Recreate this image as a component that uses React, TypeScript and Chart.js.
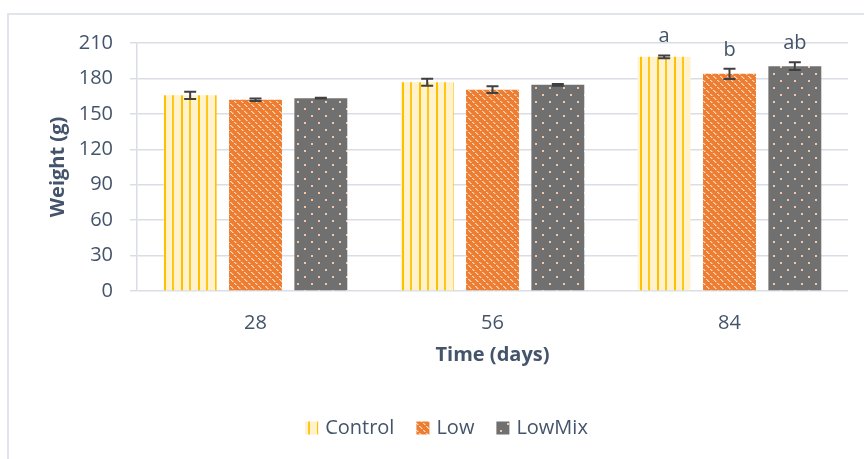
import React, { useEffect, useRef } from 'react';
import { Chart, registerables } from 'chart.js';

Chart.register(...registerables);

// ---- data ----
const categories = ['28', '56', '84'];
const seriesNames = ['Control', 'Low', 'LowMix'];
const controlValues = [165.7, 176.8, 198.3];
const lowValues = [162.0, 170.5, 183.9];
const lowMixValues = [163.3, 174.6, 190.4];
const controlErrors = [3.1, 3.0, 1.2];
const lowErrors = [1.1, 2.8, 4.4];
const lowMixErrors = [0.3, 0.7, 3.2];
const controlLetters = ['', '', 'a'];
const lowLetters = ['', '', 'b'];
const lowMixLetters = ['', '', 'ab'];
const yMin = 0;
const yMax = 210;
const yStep = 30;
const xTitle = 'Time (days)';
const yTitle = 'Weight (g)';

const TEXT = '#44546A';
const GRID = '#DADEE4';
const FONT = '"Open Sans", "DejaVu Sans", sans-serif';

function tile(w: number, h: number, draw: (g: CanvasRenderingContext2D) => void) {
  const c = document.createElement('canvas');
  c.width = w;
  c.height = h;
  const g = c.getContext('2d') as CanvasRenderingContext2D;
  draw(g);
  return c;
}

function makePatterns(ctx: CanvasRenderingContext2D) {
  const control = tile(17, 4, (g) => {
    g.fillStyle = '#FFF2CC';
    g.fillRect(0, 0, 17, 4);
    g.fillStyle = '#FFC000';
    g.fillRect(11, 0, 2, 4);
    g.fillStyle = '#FFC61A';
    g.fillRect(2, 0, 2, 4);
  });
  const low = tile(7, 7, (g) => {
    g.fillStyle = '#ED7D31';
    g.fillRect(0, 0, 7, 7);
    for (let i = 0; i < 7; i++) {
      if (i === 2 || i === 5) continue;
      g.fillStyle = 'rgba(252,222,200,0.95)';
      g.fillRect(i, i, 1, 1);
      g.fillStyle = 'rgba(250,205,175,0.55)';
      g.fillRect((i + 1) % 7, i, 1, 1);
    }
  });
  const mix = tile(14, 14, (g) => {
    g.fillStyle = '#707070';
    g.fillRect(0, 0, 14, 14);
    g.fillStyle = '#F6C7A6';
    g.fillRect(3, 3, 2, 2);
    g.fillRect(10, 10, 2, 2);
  });
  return [
    ctx.createPattern(control, 'repeat'),
    ctx.createPattern(low, 'repeat'),
    ctx.createPattern(mix, 'repeat'),
  ];
}

const errorSets = [controlErrors, lowErrors, lowMixErrors];
const letterSets = [controlLetters, lowLetters, lowMixLetters];

const framePlugin = {
  id: 'frame',
  beforeDraw(chart: any) {
    const ctx = chart.ctx;
    ctx.save();
    ctx.strokeStyle = '#E1E4E9';
    ctx.lineWidth = 2;
    ctx.beginPath();
    ctx.moveTo(8, chart.height);
    ctx.lineTo(8, 14);
    ctx.lineTo(chart.width, 14);
    ctx.stroke();
    ctx.restore();
  },
};

const overlayPlugin = {
  id: 'overlay',
  afterDatasetsDraw(chart: any) {
    const ctx = chart.ctx;
    const ys = chart.scales.y;
    chart.data.datasets.forEach((ds: any, di: number) => {
      const meta = chart.getDatasetMeta(di);
      meta.data.forEach((bar: any, i: number) => {
        const v = ds.data[i];
        const e = errorSets[di][i];
        const x = bar.x;
        const yHi = ys.getPixelForValue(v + e);
        const yLo = ys.getPixelForValue(v - e);
        ctx.save();
        ctx.strokeStyle = '#404040';
        ctx.lineWidth = 2;
        ctx.beginPath();
        ctx.moveTo(x, yHi);
        ctx.lineTo(x, yLo);
        ctx.moveTo(x - 6, yHi);
        ctx.lineTo(x + 6, yHi);
        ctx.moveTo(x - 6, yLo);
        ctx.lineTo(x + 6, yLo);
        ctx.stroke();
        const letter = letterSets[di][i];
        if (letter) {
          ctx.fillStyle = TEXT;
          ctx.font = `20px ${FONT}`;
          ctx.textAlign = 'center';
          ctx.textBaseline = 'alphabetic';
          ctx.fillText(letter, x, yHi - 13);
        }
        ctx.restore();
      });
    });
  },
};

const legendPlugin = {
  id: 'customLegend',
  afterDraw(chart: any) {
    const ctx = chart.ctx;
    ctx.save();
    ctx.font = `20px ${FONT}`;
    const box = 13;
    const gapText = 7;
    const gapItem = 22;
    const widths = chart.data.datasets.map((ds: any) => box + gapText + ctx.measureText(ds.label).width);
    const total = widths.reduce((a: number, b: number) => a + b, 0) + gapItem * (widths.length - 1);
    let x = 446.5 - total / 2;
    const cy = 428;
    chart.data.datasets.forEach((ds: any, i: number) => {
      ctx.fillStyle = ds.backgroundColor;
      ctx.fillRect(x, cy - 6.5, box, box);
      ctx.fillStyle = TEXT;
      ctx.textAlign = 'left';
      ctx.textBaseline = 'middle';
      ctx.fillText(ds.label, x + box + gapText, cy);
      x += widths[i] + gapItem;
    });
    ctx.restore();
  },
};

export default function App() {
  const ref = useRef<HTMLCanvasElement | null>(null);
  useEffect(() => {
    const canvas = ref.current;
    if (!canvas) return;
    const ctx = canvas.getContext('2d') as CanvasRenderingContext2D;
    const patterns = makePatterns(ctx);
    const valueSets = [controlValues, lowValues, lowMixValues];
    const chart = new Chart(ctx, {
      type: 'bar',
      data: {
        labels: categories,
        datasets: seriesNames.map((name, i) => ({
          label: name,
          data: valueSets[i],
          backgroundColor: patterns[i] as any,
          borderWidth: 0,
          barPercentage: 0.81,
          categoryPercentage: 0.827,
        })),
      },
      options: {
        responsive: false,
        animation: false,
        devicePixelRatio: 1,
        layout: { padding: { top: 43, right: 16, bottom: 48, left: 0 } },
        plugins: {
          legend: { display: false },
          tooltip: { enabled: false },
        },
        scales: {
          x: {
            grid: { display: false, drawTicks: false },
            border: { display: false },
            ticks: { color: TEXT, font: { family: FONT, size: 20 }, padding: 20 },
            title: {
              display: true,
              text: xTitle,
              color: TEXT,
              font: { family: FONT, size: 20, weight: 'bold' },
              padding: { top: 0, bottom: 44 },
            },
            afterFit: (s: any) => {
              s.height = 120;
            },
          },
          y: {
            min: yMin,
            max: yMax,
            ticks: { stepSize: yStep, color: TEXT, font: { family: FONT, size: 20 }, padding: 17 },
            grid: { color: GRID, lineWidth: 1.5, tickLength: 7 },
            border: { display: true, color: GRID, width: 1.5 },
            title: {
              display: true,
              text: yTitle,
              color: TEXT,
              font: { family: FONT, size: 20, weight: 'bold' },
              padding: { top: 46, bottom: 0 },
            },
            afterFit: (s: any) => {
              s.width = 137;
            },
          },
        },
      } as any,
      plugins: [framePlugin, overlayPlugin, legendPlugin],
    });
    return () => chart.destroy();
  }, []);
  return (
    <div style={{ position: 'fixed', left: 0, top: 0, width: 864, height: 459, background: '#fff' }}>
      <canvas ref={ref} width={864} height={459} style={{ display: 'block', width: 864, height: 459 }} />
    </div>
  );
}
